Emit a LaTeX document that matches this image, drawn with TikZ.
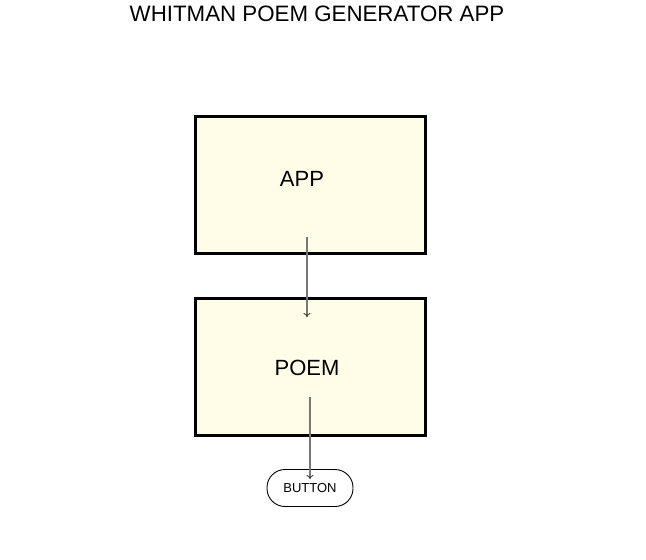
\documentclass[tikz,border=0pt]{standalone}
\usepackage{fontspec}
\setmainfont{Liberation Sans}
\usetikzlibrary{arrows.meta,calc}
\definecolor{boxfill}{HTML}{FFFDE7}
\definecolor{linegray}{HTML}{777777}
\tikzset{
  box/.style={draw=black, line width=2.2pt, fill=boxfill, minimum width=230pt, minimum height=137pt, inner sep=0pt},
  lbl/.style={font=\fontsize{22pt}{24pt}\selectfont, inner sep=0pt},
  pill/.style={draw=black, line width=0.9pt, rounded corners=18pt, minimum width=86pt, minimum height=37pt, inner sep=0pt, font=\fontsize{13pt}{15pt}\selectfont},
  conn/.style={draw=linegray, line width=1.2pt, -{To[length=4pt,width=7pt,color=black!80,line width=0.8pt]}},
}
\begin{document}
\begin{tikzpicture}[x=1pt,y=-1pt]
\useasboundingbox (0,0) rectangle (646,560);
\node[font=\fontsize{22.3pt}{24pt}\selectfont, inner sep=0pt] (title) at (317,14) {WHITMAN POEM GENERATOR APP};
\node[box] (app) at (310.5,185) {};
\node[box] (poem) at (310.5,367) {};
\node[lbl] (applbl) at (302,178.5) {APP};
\node[lbl] (poemlbl) at (307,367.5) {POEM};
\node[pill] (button) at (310,488) {BUTTON};
\coordinate (a1) at ($(app.center)+(-3.5,52)$);
\coordinate (a2) at ($(poem.center)+(-3.5,-50)$);
\coordinate (b1) at ($(poem.center)+(-0.5,30)$);
\coordinate (b2) at ($(button.center)+(0,-9)$);
\draw[conn] (a1) -- (a2);
\draw[conn] (b1) -- (b2);
\end{tikzpicture}
\end{document}
